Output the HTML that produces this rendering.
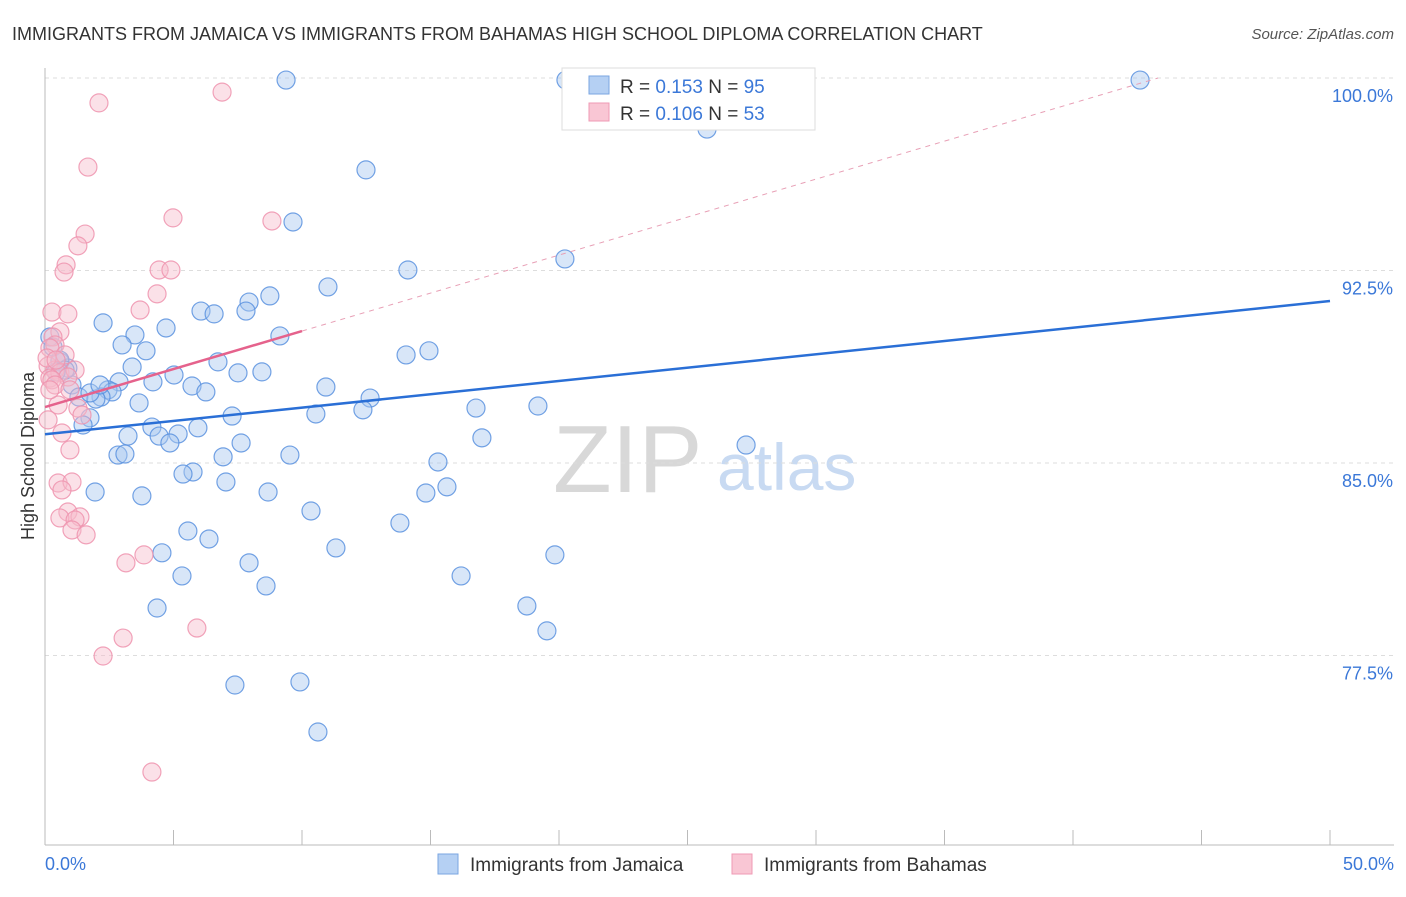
<!DOCTYPE html>
<html><head><meta charset="utf-8"><style>
body{margin:0;background:#fff;font-family:"Liberation Sans",sans-serif;}
svg text{font-family:"Liberation Sans",sans-serif;}
</style></head><body>
<svg id="chart" width="1406" height="892" xmlns="http://www.w3.org/2000/svg">
<text x="12" y="40" font-size="18" fill="#333">IMMIGRANTS FROM JAMAICA VS IMMIGRANTS FROM BAHAMAS HIGH SCHOOL DIPLOMA CORRELATION CHART</text>
<text x="1394" y="39" font-size="15" fill="#555" font-style="italic" text-anchor="end">Source: ZipAtlas.com</text>
<g>
<text x="553" y="492" font-size="96" font-family="Liberation Serif" fill="#d8d8d8">ZIP</text>
<text x="717" y="490" font-size="66" fill="#c8daf2">atlas</text>
</g>
<g id="grid"></g><g id="axes"></g><g id="pts"></g><g id="lines"></g>
<text transform="translate(34,456) rotate(-90)" font-size="18" fill="#333" text-anchor="middle">High School Diploma</text>
<g>
<rect x="562" y="68" width="253" height="62" fill="#fff" stroke="#ddd"/>
<rect x="589" y="76" width="20" height="18" fill="#b5d0f3" stroke="#7aa6e2"/>
<rect x="589" y="103" width="20" height="18" fill="#f9c6d4" stroke="#ef9ab4"/>
<text x="620" y="93" font-size="19" fill="#333">R = <tspan fill="#3b78d8">0.153</tspan>   N = <tspan fill="#3b78d8">95</tspan></text>
<text x="620" y="120" font-size="19" fill="#333">R = <tspan fill="#3b78d8">0.106</tspan>   N = <tspan fill="#3b78d8">53</tspan></text>
</g>
<g>
<rect x="438" y="854" width="20" height="20" fill="#b5d0f3" stroke="#7aa6e2"/>
<text x="470" y="871" font-size="19" fill="#333">Immigrants from Jamaica</text>
<rect x="732" y="854" width="20" height="20" fill="#f9c6d4" stroke="#ef9ab4"/>
<text x="764" y="871" font-size="19" fill="#333">Immigrants from Bahamas</text>
</g>
</svg>
<script>
const yTicks=[77.5,85,92.5,100];
const yTickLabels=["77.5%","85.0%","92.5%","100.0%"];
const xTickLabels=["0.0%","50.0%"];
const blueX=[9.38,20.27,42.61,25.76,12.49,9.65,20.23,14.12,11.01,8.75,7.94,6.07,6.58,7.82,2.26,4.71,3.50,9.14,3.00,3.93,14.05,14.94,0.19,0.31,6.73,3.39,0.58,0.89,5.02,7.51,8.44,4.20,2.88,5.72,6.26,1.05,10.93,2.45,2.61,2.18,1.32,1.98,12.65,3.66,12.37,16.77,19.18,10.54,7.28,1.75,1.48,4.16,5.18,3.23,4.44,4.86,5.95,17.00,7.63,27.28,2.84,3.11,9.53,6.93,15.29,5.76,5.37,7.04,15.64,1.95,8.68,3.77,14.82,10.35,13.81,5.56,6.38,11.32,4.55,19.84,7.94,5.33,16.19,8.60,4.36,18.75,19.53,7.39,9.92,10.62,0.58,0.78,1.75,2.14,0.43];
const blueY=[99.92,99.92,99.92,98.01,96.42,94.39,92.95,92.52,91.86,91.51,91.27,90.92,90.81,90.92,90.46,90.26,89.99,89.95,89.60,89.37,89.21,89.37,89.91,89.52,88.94,88.74,88.94,88.70,88.43,88.51,88.55,88.16,88.16,88.00,87.77,88.04,87.96,87.85,87.77,87.57,87.57,87.49,87.53,87.34,87.07,87.14,87.22,86.91,86.83,86.76,86.48,86.40,86.13,86.05,86.05,85.78,86.37,85.98,85.78,85.70,85.31,85.35,85.31,85.24,85.04,84.65,84.57,84.26,84.07,83.87,83.87,83.72,83.83,83.13,82.66,82.35,82.04,81.69,81.50,81.42,81.11,80.60,80.60,80.21,79.35,79.43,78.46,76.35,76.47,74.52,89.01,88.62,87.73,88.04,88.55];
const pinkX=[2.10,6.89,1.67,4.98,8.83,1.56,1.28,0.82,0.74,4.44,4.90,4.36,0.27,3.70,0.89,0.58,0.31,0.39,0.19,0.78,0.12,0.39,0.58,0.19,1.17,0.89,0.27,0.39,0.97,0.51,1.28,1.44,0.12,0.66,0.97,0.51,1.05,0.66,0.89,1.36,0.58,1.17,1.05,1.60,3.85,3.15,5.91,3.04,2.26,4.16,0.19,0.08,0.43];
const pinkY=[99.03,99.45,96.53,94.55,94.43,93.92,93.46,92.72,92.44,92.52,92.52,91.59,90.88,90.96,90.81,90.11,89.91,89.60,89.48,89.21,88.78,88.62,88.51,88.31,88.62,88.35,88.24,88.04,87.85,87.26,87.14,86.87,86.68,86.17,85.51,84.22,84.26,83.95,83.09,82.90,82.86,82.78,82.39,82.20,81.42,81.11,78.57,78.18,77.48,72.96,87.85,89.09,89.01];
const blueTrend=[86.12,91.31]; // at x=0 and x=50
const pinkTrend=[87.18,90.14]; // at x=0 and x=10
const NS="http://www.w3.org/2000/svg";
const X=v=>45+v/50*1285;
const Y=v=>78+(100-v)/7.5*192.5;
function mk(tag,attrs,parent){const e=document.createElementNS(NS,tag);for(const k in attrs)e.setAttribute(k,attrs[k]);parent.appendChild(e);return e;}
const grid=document.getElementById('grid'),axes=document.getElementById('axes'),pts=document.getElementById('pts'),lines=document.getElementById('lines');
yTicks.forEach((t,i)=>{
 const g=mk('line',{x1:45,x2:1394,y1:Y(t),y2:Y(t),stroke:'#ddd','stroke-dasharray':'4,4'},grid);
 
 
 const tx=mk('text',{x:1393,y:Y(t)+24,'font-size':18,fill:'#3b78d8','text-anchor':'end'},axes);
 tx.textContent=yTickLabels[i];
 
 
});
const ax=mk('line',{x1:45,x2:45,y1:68,y2:845,stroke:'#bbb'},axes);


const bx=mk('line',{x1:45,x2:1394,y1:845,y2:845,stroke:'#bbb'},axes);


for(let i=0;i<=10;i++){const t=mk('line',{x1:X(i*5),x2:X(i*5),y1:830,y2:845,stroke:'#bbb'},axes);
 
 }
[[0,'start',45],[50,'end',1394]].forEach((d,i)=>{const t=mk('text',{x:d[2],y:870,'font-size':18,fill:'#3b78d8','text-anchor':d[1]},axes);t.textContent=xTickLabels[i];
 
 });
function dots(xs,ys,fill,stroke,name){xs.forEach((x,i)=>{const c=mk('circle',{cx:X(x),cy:Y(ys[i]),r:9,fill:fill,'fill-opacity':0.45,stroke:stroke,'stroke-width':1.2,'stroke-opacity':0.85},pts);
 
 });}
dots(blueX,blueY,'#a9c7f0','#5b92df','point-jamaica');
dots(pinkX,pinkY,'#f7bccd','#ee93ae','point-bahamas');
const bl=mk('line',{x1:X(0),y1:Y(blueTrend[0]),x2:X(50),y2:Y(blueTrend[1]),stroke:'#2a6fd6','stroke-width':2.5},lines);


const slope=(pinkTrend[1]-pinkTrend[0])/10;
const xe=(100-pinkTrend[0])/slope;
const pd=mk('line',{x1:X(10),y1:Y(pinkTrend[1]),x2:X(xe),y2:Y(100),stroke:'#e8a0b6','stroke-width':1,'stroke-dasharray':'5,5'},lines);


const pl=mk('line',{x1:X(0),y1:Y(pinkTrend[0]),x2:X(10),y2:Y(pinkTrend[1]),stroke:'#e5628c','stroke-width':2.5},lines);


</script>
</body></html>
